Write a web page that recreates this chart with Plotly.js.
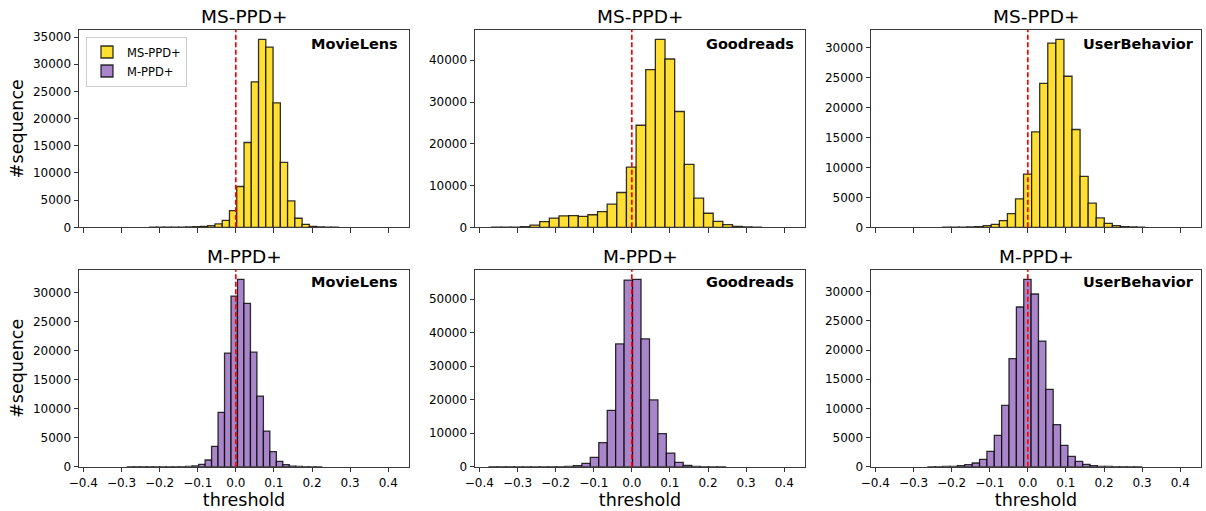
<!DOCTYPE html>
<html><head><meta charset="utf-8">
<script src="https://cdn.plot.ly/plotly-3.0.1.min.js"></script>
<style>html,body{margin:0;padding:0;background:#fff}#chart{width:1206px;height:511px}</style>
</head><body><div id="chart"></div>
<script>
// ---------- data ----------
const thresholdTicks = [-0.4, -0.3, -0.2, -0.1, 0, 0.1, 0.2, 0.3, 0.4];
const thresholdTickLabels = ['−0.4', '−0.3', '−0.2', '−0.1', '0.0', '0.1', '0.2', '0.3', '0.4'];

const seriesNames = ['MS-PPD+', 'M-PPD+'];
const datasetNames = ['MovieLens', 'Goodreads', 'UserBehavior'];

// MovieLens, MS-PPD+
const movielensMsBinWidth = 0.0191;
const movielensMsCenters = [-0.2167, -0.1977, -0.1786, -0.1595, -0.1405, -0.1214, -0.1024, -0.0833, -0.0642, -0.0452, -0.0261, -0.0071, 0.0120, 0.0311, 0.0501, 0.0692, 0.0882, 0.1073, 0.1264, 0.1454, 0.1645, 0.1835, 0.2026, 0.2217, 0.2407, 0.2598];
const movielensMsCounts  = [10, 10, 20, 25, 40, 60, 100, 180, 300, 615, 1290, 3075, 7500, 15600, 26750, 34560, 33150, 22900, 11930, 4860, 1660, 550, 180, 60, 20, 10];

// MovieLens, M-PPD+
const movielensMBinWidth = 0.0170;
const movielensMCenters = [-0.2761, -0.2591, -0.2421, -0.2251, -0.2081, -0.1911, -0.1741, -0.1571, -0.1401, -0.1231, -0.1061, -0.0891, -0.0721, -0.0551, -0.0381, -0.0211, -0.0041, 0.0129, 0.0299, 0.0469, 0.0639, 0.0809, 0.0979, 0.1149, 0.1319, 0.1489, 0.1659, 0.1829, 0.1999, 0.2169];
const movielensMCounts  = [25, 30, 25, 15, 10, 8, 10, 15, 25, 45, 120, 400, 1150, 3500, 9350, 19550, 29360, 32230, 28100, 19700, 12150, 6130, 2580, 920, 340, 115, 40, 15, 8, 5];

// Goodreads, MS-PPD+
const goodreadsMsBinWidth = 0.0253;
const goodreadsMsCenters = [-0.3555, -0.3302, -0.3049, -0.2796, -0.2543, -0.2290, -0.2037, -0.1784, -0.1531, -0.1278, -0.1025, -0.0773, -0.0520, -0.0267, -0.0014, 0.0239, 0.0492, 0.0745, 0.0998, 0.1251, 0.1504, 0.1757, 0.2010, 0.2263, 0.2516, 0.2769, 0.3022, 0.3275];
const goodreadsMsCounts  = [15, 30, 60, 160, 520, 1360, 2200, 2760, 2800, 2640, 3000, 3770, 5530, 8330, 14400, 24440, 37740, 45000, 40300, 27730, 15060, 6970, 3370, 1440, 640, 240, 100, 40];

// Goodreads, M-PPD+
const goodreadsMBinWidth = 0.0222;
const goodreadsMCenters = [-0.3638, -0.3416, -0.3194, -0.2973, -0.2751, -0.2529, -0.2308, -0.2086, -0.1864, -0.1643, -0.1421, -0.1199, -0.0978, -0.0756, -0.0534, -0.0313, -0.0091, 0.0131, 0.0353, 0.0574, 0.0796, 0.1018, 0.1239, 0.1461, 0.1683, 0.1904, 0.2126, 0.2348];
const goodreadsMCounts  = [40, 50, 30, 20, 15, 15, 20, 30, 50, 100, 300, 1000, 2790, 7170, 16830, 36650, 55680, 55900, 38150, 19920, 9860, 4080, 1290, 400, 100, 40, 15, 8];

// UserBehavior, MS-PPD+
const userbehaviorMsBinWidth = 0.0212;
const userbehaviorMsCenters = [-0.2125, -0.1913, -0.1701, -0.1489, -0.1277, -0.1065, -0.0853, -0.0641, -0.0429, -0.0217, -0.0006, 0.0206, 0.0418, 0.0630, 0.0842, 0.1054, 0.1266, 0.1478, 0.1690, 0.1901, 0.2113, 0.2325, 0.2537, 0.2749, 0.2961];
const userbehaviorMsCounts  = [10, 15, 30, 50, 110, 280, 500, 1120, 2300, 4760, 8900, 15960, 24080, 30800, 31420, 25260, 16350, 8510, 4030, 1570, 670, 280, 110, 50, 20];

// UserBehavior, M-PPD+
const userbehaviorMBinWidth = 0.0193;
const userbehaviorMCenters = [-0.2523, -0.2330, -0.2136, -0.1943, -0.1750, -0.1557, -0.1363, -0.1170, -0.0977, -0.0783, -0.0590, -0.0397, -0.0203, -0.0010, 0.0183, 0.0377, 0.0570, 0.0763, 0.0957, 0.1150, 0.1343, 0.1537, 0.1730, 0.1923, 0.2117, 0.2310, 0.2503, 0.2697, 0.2890];
const userbehaviorMCounts  = [10, 20, 30, 60, 170, 340, 630, 1260, 2630, 5370, 10510, 18510, 27370, 32110, 29600, 21540, 13260, 7200, 3660, 1770, 910, 400, 170, 60, 30, 20, 15, 10, 8];

// ---------- styling ----------
const FONT = 'DejaVu Sans, Verdana, sans-serif';
const yellowFill = '#FFDF33';
const purpleFill = '#A985CA';
const edgeColor = 'rgba(0,0,0,0.8)';

const panels = [
  // row 1
  {name: seriesNames[0], ds: datasetNames[0], x: movielensMsCenters, y: movielensMsCounts, w: movielensMsBinWidth, fill: yellowFill, dtick: 5000, row: 0, col: 0, legend: true},
  {name: seriesNames[0], ds: datasetNames[1], x: goodreadsMsCenters, y: goodreadsMsCounts, w: goodreadsMsBinWidth, fill: yellowFill, dtick: 10000, row: 0, col: 1, legend: false},
  {name: seriesNames[0], ds: datasetNames[2], x: userbehaviorMsCenters, y: userbehaviorMsCounts, w: userbehaviorMsBinWidth, fill: yellowFill, dtick: 5000, row: 0, col: 2, legend: false},
  // row 2
  {name: seriesNames[1], ds: datasetNames[0], x: movielensMCenters, y: movielensMCounts, w: movielensMBinWidth, fill: purpleFill, dtick: 5000, row: 1, col: 0, legend: true},
  {name: seriesNames[1], ds: datasetNames[1], x: goodreadsMCenters, y: goodreadsMCounts, w: goodreadsMBinWidth, fill: purpleFill, dtick: 10000, row: 1, col: 1, legend: false},
  {name: seriesNames[1], ds: datasetNames[2], x: userbehaviorMCenters, y: userbehaviorMCounts, w: userbehaviorMBinWidth, fill: purpleFill, dtick: 5000, row: 1, col: 2, legend: false}
];

const W = 1206, H = 511;
const colPx = [[79, 409], [475, 805], [871, 1201]];
const rowPx = [[30, 227.3], [270, 466.7]];
const dsLabelX = [0.972, 0.972, 0.984];
const dsLabelY = [0.930, 0.940];

const traces = [];
const layout = {
  width: W, height: H,
  margin: {l: 0, r: 0, t: 0, b: 0},
  paper_bgcolor: '#fff', plot_bgcolor: '#fff',
  font: {family: FONT, size: 12, color: '#000'},
  showlegend: true,
  legend: {
    x: 86 / W, y: 1 - 36.5 / H, xanchor: 'left', yanchor: 'top',
    bgcolor: 'rgba(255,255,255,0.9)', bordercolor: '#cccccc', borderwidth: 1,
    font: {family: FONT, size: 11.5, color: '#000'},
    tracegroupgap: 2, itemwidth: 30
  },
  bargap: 0,
  barmode: 'overlay',
  shapes: [], annotations: []
};

panels.forEach((p, i) => {
  const n = i + 1;
  const xa = n === 1 ? 'x' : 'x' + n;
  const ya = n === 1 ? 'y' : 'y' + n;
  traces.push({
    type: 'bar', x: p.x, y: p.y, width: p.x.map(() => p.w),
    xaxis: xa, yaxis: ya, name: p.name, showlegend: p.legend,
    marker: {color: p.fill, line: {color: edgeColor, width: 1.3}},
    hoverinfo: 'x+y'
  });
  const c = colPx[p.col], r = rowPx[p.row];
  const isBottom = p.row === 1;
  const xKey = n === 1 ? 'xaxis' : 'xaxis' + n;
  const yKey = n === 1 ? 'yaxis' : 'yaxis' + n;
  layout[xKey] = {
    domain: [c[0] / W, c[1] / W], anchor: ya,
    range: [-0.4115, 0.4545], autorange: false,
    tickvals: thresholdTicks, ticktext: thresholdTickLabels,
    showticklabels: isBottom,
    ticks: 'outside', ticklen: 4.5, tickwidth: 1, tickcolor: '#333',
    showline: true, linecolor: '#3a3a3a', linewidth: 1, mirror: true,
    showgrid: false, zeroline: false,
    tickfont: {family: FONT, size: 12, color: '#000'},
    title: isBottom ? {text: 'threshold', font: {family: FONT, size: 17.5, color: '#000'}, standoff: 2} : {text: ''}
  };
  const ymax = Math.max(...p.y) * 1.05;
  layout[yKey] = {
    domain: [1 - r[1] / H, 1 - r[0] / H], anchor: xa,
    range: [0, ymax], autorange: false,
    dtick: p.dtick, tick0: 0, tickformat: 'd',
    ticks: 'outside', ticklen: 4.5, tickwidth: 1, tickcolor: '#333',
    showline: true, linecolor: '#3a3a3a', linewidth: 1, mirror: true,
    showgrid: false, zeroline: false,
    tickfont: {family: FONT, size: 12, color: '#000'},
    title: p.col === 0 ? {text: '#sequence', font: {family: FONT, size: 17.5, color: '#000'}, standoff: 4} : {text: ''}
  };
  // dashed threshold line at 0
  layout.shapes.push({
    type: 'line', xref: xa, yref: ya + ' domain', x0: 0, x1: 0, y0: 0, y1: 1,
    line: {color: '#ff0000', width: 1.7, dash: '5px,2.5px'}, layer: 'above'
  });
  // subplot title
  layout.annotations.push({
    xref: 'paper', yref: 'paper', x: (c[0] + c[1]) / 2 / W, y: 1 - r[0] / H,
    xanchor: 'center', yanchor: 'bottom', yshift: 1, showarrow: false,
    text: p.name, font: {family: FONT, size: 18.5, color: '#000'}
  });
  // dataset label
  layout.annotations.push({
    xref: xa + ' domain', yref: ya + ' domain', x: dsLabelX[p.col], y: dsLabelY[p.row],
    xanchor: 'right', yanchor: 'middle', showarrow: false,
    text: '<b>' + p.ds + '</b>', font: {family: FONT, size: 14.5, color: '#000'}
  });
});

Plotly.newPlot('chart', traces, layout, {staticPlot: true, displayModeBar: false});
</script></body></html>
